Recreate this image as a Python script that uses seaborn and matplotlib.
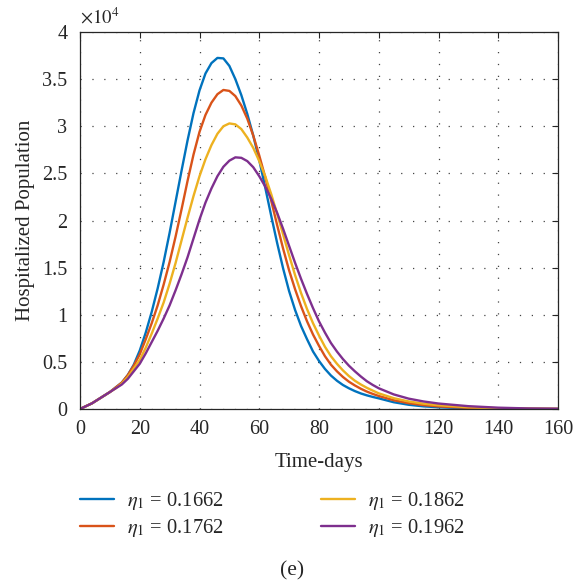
import numpy as np
import pandas as pd
import matplotlib
matplotlib.use("Agg")
import matplotlib.pyplot as plt
import seaborn as sns

# ---- data (hospitalized population, in units of 10^4) ----
days = [0, 2, 4, 6, 8, 10, 12, 14, 16, 18, 20, 22, 24, 26, 28, 30, 32, 34, 36, 38,
        40, 42, 44, 46, 48, 50, 52, 54, 56, 58, 60, 62, 64, 66, 68, 70, 72, 74, 76, 78,
        80, 82, 84, 86, 88, 90, 92, 94, 96, 98, 100, 105, 110, 115, 120, 130, 140, 150, 160]

eta_1662 = [0, 0.03, 0.06, 0.10, 0.14, 0.18, 0.23, 0.28, 0.36, 0.47, 0.62, 0.81, 1.03, 1.28, 1.56,
            1.87, 2.20, 2.53, 2.85, 3.14, 3.38, 3.56, 3.67, 3.725, 3.72, 3.64, 3.50, 3.33, 3.13, 2.90,
            2.64, 2.35, 2.05, 1.76, 1.49, 1.25, 1.05, 0.88, 0.74, 0.61, 0.51, 0.425, 0.355, 0.30, 0.255,
            0.22, 0.19, 0.165, 0.145, 0.128, 0.113, 0.072, 0.045, 0.028, 0.018, 0.007, 0.003, 0.001, 0.0]

eta_1762 = [0, 0.03, 0.06, 0.10, 0.14, 0.18, 0.23, 0.28, 0.36, 0.46, 0.58, 0.74, 0.91, 1.10, 1.32,
            1.56, 1.83, 2.12, 2.42, 2.70, 2.94, 3.12, 3.25, 3.34, 3.385, 3.375, 3.32, 3.22, 3.08, 2.90,
            2.69, 2.46, 2.21, 1.95, 1.70, 1.47, 1.27, 1.09, 0.93, 0.79, 0.67, 0.56, 0.47, 0.40, 0.34,
            0.29, 0.25, 0.215, 0.185, 0.16, 0.138, 0.093, 0.062, 0.041, 0.028, 0.012, 0.005, 0.002, 0.001]

eta_1862 = [0, 0.03, 0.06, 0.10, 0.14, 0.18, 0.22, 0.27, 0.34, 0.43, 0.52, 0.65, 0.80, 0.96, 1.13,
            1.33, 1.55, 1.79, 2.03, 2.26, 2.47, 2.65, 2.80, 2.92, 3.00, 3.03, 3.02, 2.97, 2.88, 2.77,
            2.63, 2.47, 2.28, 2.07, 1.85, 1.63, 1.42, 1.23, 1.06, 0.91, 0.78, 0.66, 0.56, 0.48, 0.41,
            0.35, 0.30, 0.26, 0.225, 0.195, 0.166, 0.115, 0.08, 0.056, 0.04, 0.018, 0.008, 0.003, 0.001]

eta_1962 = [0, 0.03, 0.06, 0.10, 0.14, 0.18, 0.22, 0.26, 0.32, 0.40, 0.48, 0.59, 0.71, 0.83, 0.96,
            1.10, 1.26, 1.43, 1.61, 1.81, 2.01, 2.19, 2.34, 2.47, 2.57, 2.635, 2.67, 2.665, 2.63, 2.565,
            2.47, 2.36, 2.23, 2.08, 1.91, 1.73, 1.55, 1.38, 1.22, 1.07, 0.93, 0.81, 0.70, 0.61, 0.53,
            0.46, 0.40, 0.345, 0.295, 0.255, 0.22, 0.155, 0.11, 0.08, 0.058, 0.03, 0.014, 0.006, 0.003]

labels = [r"$\eta_{1}$ = 0.1662", r"$\eta_{1}$ = 0.1762", r"$\eta_{1}$ = 0.1862", r"$\eta_{1}$ = 0.1962"]
colors = ["#0072BD", "#D95319", "#EDB120", "#7E2F8E"]
x_ticks = [0, 20, 40, 60, 80, 100, 120, 140, 160]
y_ticks = [0, 0.5, 1, 1.5, 2, 2.5, 3, 3.5, 4]

df = pd.concat([
    pd.DataFrame({"t": days, "H": vals, "series": lab})
    for vals, lab in zip([eta_1662, eta_1762, eta_1862, eta_1962], labels)
], ignore_index=True)

sns.set_theme(style="white")
plt.rcParams["font.family"] = ["Liberation Serif", "DejaVu Serif"]
plt.rcParams["mathtext.fontset"] = "stix"

TXT = "#262626"
fig = plt.figure(figsize=(5.74, 5.83), dpi=100)
ax = fig.add_axes([80 / 574, 1 - 409 / 583, (558 - 80) / 574, (409 - 32) / 583])

sns.lineplot(data=df, x="t", y="H", hue="series", hue_order=labels,
             palette=colors, linewidth=1.7, ax=ax, legend=True)

ax.set_xlim(0, 160)
ax.set_ylim(0, 4)
ax.set_xticks(x_ticks)
ax.set_yticks(y_ticks)
ax.set_xticklabels([f"{v:g}" for v in x_ticks])
ax.set_yticklabels([f"{v:g}" for v in y_ticks])
ax.tick_params(direction="in", length=4.5, width=0.8, colors=TXT,
               labelsize=14.5, top=True, right=True)
ax.tick_params(axis="x", pad=8)
ax.tick_params(axis="y", pad=9)
for s in ax.spines.values():
    s.set_visible(True)
    s.set_color(TXT)
    s.set_linewidth(0.9)

ax.grid(True, linestyle=(0, (1, 8.5)), color="#444444", linewidth=0.9)
ax.set_axisbelow(True)

ax.set_xlabel("Time-days", fontsize=15, color=TXT, labelpad=10)
ax.set_ylabel("Hospitalized Population", fontsize=15, color=TXT, labelpad=5)
ax.text(0.0, 1.012, r"$\times10^{4}$", transform=ax.transAxes, fontsize=13.5,
        color=TXT, ha="left", va="bottom")

handles, labs = ax.get_legend_handles_labels()
ax.legend_.remove()
fig.legend(handles, labs, ncol=2, loc="upper left", bbox_to_anchor=(80 / 574, 1 - 490 / 583),
           frameon=False, fontsize=14.8, handlelength=1.66, handletextpad=0.63,
           columnspacing=4.7, labelspacing=0.25, borderpad=0, borderaxespad=0)

fig.text(292 / 574, 1 - 571 / 583, "(e)", ha="center", va="center", fontsize=15.5, color=TXT)

fig.savefig("out.png", dpi=100)
